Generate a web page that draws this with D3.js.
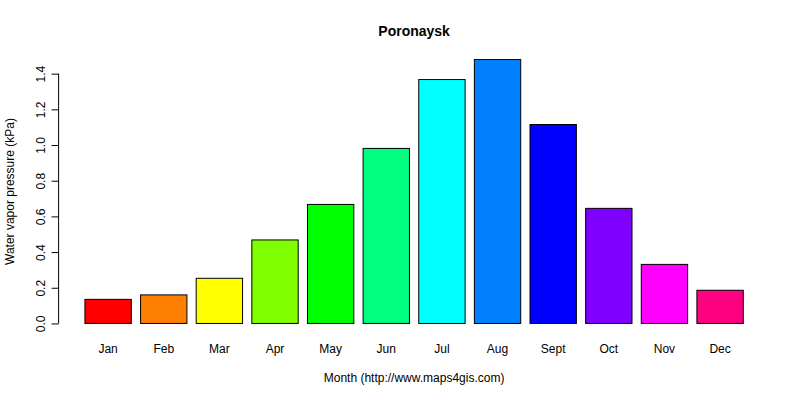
<!DOCTYPE html>
<html>
<head>
<meta charset="utf-8">
<script src="https://cdn.jsdelivr.net/npm/d3@7"></script>
<style>
  body { margin: 0; background: #fff; }
  svg { font-family: "Liberation Sans", Arial, sans-serif; }
</style>
</head>
<body>
<svg id="chart" width="800" height="400"></svg>
<script>
// Monthly water vapour pressure
const months = ["Jan", "Feb", "Mar", "Apr", "May", "Jun", "Jul", "Aug", "Sept", "Oct", "Nov", "Dec"];
const vapor = [0.135, 0.16, 0.253, 0.468, 0.667, 0.981, 1.367, 1.479, 1.115, 0.645, 0.331, 0.186];
const barColors = ["#FF0000", "#FF8000", "#FFFF00", "#80FF00", "#00FF00", "#00FF80",
                   "#00FFFF", "#0080FF", "#0000FF", "#8000FF", "#FF00FF", "#FF0080"];
const yTicks = [0, 0.2, 0.4, 0.6, 0.8, 1.0, 1.2, 1.4];

const svg = d3.select("#chart");

// plot region, like R's barplot (bar width 1, space 0.2, 4% axis padding)
const plotLeft = 58.6, plotRight = 769.6, plotTop = 49, plotBottom = 334;

const xMin = 0.2, xMax = months.length * 1.2;
const xPad = (xMax - xMin) * 0.04;
const x = d3.scaleLinear()
    .domain([xMin - xPad, xMax + xPad])
    .range([plotLeft, plotRight]);

const yMaxData = d3.max(vapor);
const yPad = yMaxData * 0.04;
const y = d3.scaleLinear()
    .domain([-yPad, yMaxData + yPad])
    .range([plotBottom, plotTop]);

// bars
svg.append("g")
    .selectAll("rect")
    .data(vapor)
    .join("rect")
    .attr("x", (d, i) => x(0.2 + i * 1.2))
    .attr("width", x(1) - x(0))
    .attr("y", d => y(d))
    .attr("height", d => y(0) - y(d))
    .attr("fill", (d, i) => barColors[i])
    .attr("stroke", "#000")
    .attr("stroke-width", 1);

// month labels (no axis line, as in R barplot names)
svg.append("g")
    .selectAll("text")
    .data(months)
    .join("text")
    .attr("x", (d, i) => x(0.7 + i * 1.2))
    .attr("y", 353)
    .attr("text-anchor", "middle")
    .attr("font-size", 12)
    .text(d => d);

// y axis
const yAxis = d3.axisLeft(y)
    .tickValues(yTicks)
    .tickSize(7)
    .tickPadding(8)
    .tickFormat(d3.format(".1f"));

const gy = svg.append("g")
    .attr("transform", "translate(" + plotLeft + ",0)")
    .call(yAxis);

gy.select(".domain")
    .attr("d", "M0," + y(0) + "V" + y(1.4))
    .attr("stroke", "#000");
gy.selectAll(".tick line").attr("stroke", "#000");
gy.selectAll(".tick text")
    .attr("font-size", 12)
    .attr("font-family", "Liberation Sans, Arial, sans-serif")
    .attr("fill", "#000")
    .attr("text-anchor", "middle")
    .attr("x", null)
    .attr("dy", null)
    .attr("transform", "translate(-18,0) rotate(-90)")
    .attr("dominant-baseline", "central");

// titles
svg.append("text")
    .attr("x", (plotLeft + plotRight) / 2)
    .attr("y", 36)
    .attr("text-anchor", "middle")
    .attr("font-size", 14)
    .attr("font-weight", "bold")
    .text("Poronaysk");

svg.append("text")
    .attr("x", (plotLeft + plotRight) / 2)
    .attr("y", 382)
    .attr("text-anchor", "middle")
    .attr("font-size", 12)
    .text("Month (http://www.maps4gis.com)");

svg.append("text")
    .attr("transform", "translate(14," + ((plotTop + plotBottom) / 2) + ") rotate(-90)")
    .attr("text-anchor", "middle")
    .attr("font-size", 12)
    .text("Water vapor pressure (kPa)");
</script>
</body>
</html>
